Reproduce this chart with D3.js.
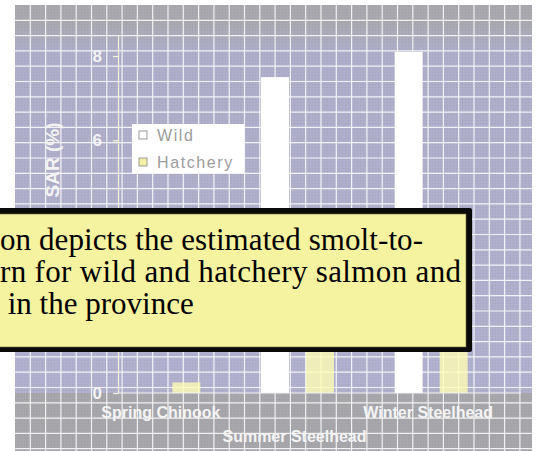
<!DOCTYPE html>
<html>
<head>
<meta charset="utf-8">
<script src="https://cdn.jsdelivr.net/npm/d3@7/dist/d3.min.js"></script>
<style>
  html, body { margin: 0; padding: 0; background: #ffffff; }
  svg { display: block; }
</style>
</head>
<body>
<svg id="chart" width="538" height="451"></svg>
<script>
// Smolt-to-adult return (SAR, %) by stock and origin
const categories = ["Spring Chinook", "Summer Steelhead", "Winter Steelhead"];
const series = ["Wild", "Hatchery"];
const wildSAR = [0, 7.5, 8.1];
const hatcherySAR = [0.25, 1.5, 1.3];
const yTicks = [0, 2, 4, 6, 8];
const calloutLines = [
  "on depicts the estimated smolt-to-",
  "rn for wild and hatchery salmon and",
  " in the province"
];

const svg = d3.select("#chart");
const defs = svg.append("defs");

// Panel backdrop: grey frame band, lavender chart field, fine grid
const panel = { x: 15, y: 5, w: 517, h: 446 };
const plot = { left: 118, right: 521, top: 35, bottom: 393 };
const note = { x: -10, y: 208, w: 482, h: 144, border: 6 };

const grad = defs.append("linearGradient")
  .attr("id", "field")
  .attr("gradientUnits", "userSpaceOnUse")
  .attr("x1", 0).attr("y1", panel.y).attr("x2", 0).attr("y2", plot.bottom);
grad.append("stop").attr("offset", 0.04).attr("stop-color", "#a8a8ae");
grad.append("stop").attr("offset", 0.12).attr("stop-color", "#aeaeca");
grad.append("stop").attr("offset", 1).attr("stop-color", "#b1b1cf");

const dots = defs.append("pattern")
  .attr("id", "dots").attr("patternUnits", "userSpaceOnUse")
  .attr("width", 3).attr("height", 3);
dots.append("rect").attr("width", 1).attr("height", 1)
  .attr("fill", "#8c8c98").attr("opacity", 0.3);

svg.append("rect")
  .attr("x", panel.x).attr("y", panel.y).attr("width", panel.w).attr("height", panel.h)
  .attr("fill", "#a6a6ab");
svg.append("rect")
  .attr("x", panel.x).attr("y", panel.y).attr("width", panel.w)
  .attr("height", plot.bottom - panel.y)
  .attr("fill", "url(#field)");
svg.append("rect")
  .attr("x", panel.x).attr("y", panel.y).attr("width", panel.w).attr("height", panel.h)
  .attr("fill", "url(#dots)");

const cell = 15.3;
const grid = svg.append("g").attr("stroke", "#ffffff").attr("stroke-width", 1.2).attr("opacity", 0.85);
grid.selectAll("line.v")
  .data(d3.range(panel.x + cell, panel.x + panel.w, cell))
  .join("line").attr("class", "v")
  .attr("x1", d => d).attr("x2", d => d)
  .attr("y1", panel.y).attr("y2", panel.y + panel.h);
grid.selectAll("line.h")
  .data(d3.range(panel.y + cell, panel.y + panel.h, cell))
  .join("line").attr("class", "h")
  .attr("y1", d => d).attr("y2", d => d)
  .attr("x1", panel.x).attr("x2", panel.x + panel.w);

// Scales
const y = d3.scaleLinear().domain([0, 8.5]).range([plot.bottom, plot.top]);
const x0 = d3.scaleBand().domain(categories).range([97, 498]);
const x1 = d3.scaleBand().domain(series)
  .range([x0.bandwidth() / 2 - 45, x0.bandwidth() / 2 + 45])
  .paddingInner(0.378).paddingOuter(0.189);

const rows = categories.map((c, i) => ({
  category: c,
  values: [
    { key: "Wild", value: wildSAR[i] },
    { key: "Hatchery", value: hatcherySAR[i] }
  ]
}));
const fillFor = { Wild: "#ffffff", Hatchery: "#fffcb4" };
const opacityFor = { Wild: 1, Hatchery: 0.8 };

// Bars
svg.append("g").selectAll("g")
  .data(rows)
  .join("g")
  .attr("transform", d => `translate(${x0(d.category)},0)`)
  .selectAll("rect")
  .data(d => d.values)
  .join("rect")
  .attr("x", d => x1(d.key))
  .attr("width", x1.bandwidth())
  .attr("y", d => y(d.value))
  .attr("height", d => y(0) - y(d.value))
  .attr("fill", d => fillFor[d.key])
  .attr("fill-opacity", d => opacityFor[d.key]);

// Y axis
const yAxis = svg.append("g")
  .attr("transform", `translate(${plot.left},0)`)
  .call(d3.axisLeft(y).tickValues(yTicks).tickSize(5).tickSizeOuter(0).tickPadding(11));
yAxis.select(".domain").attr("stroke", "#f4f4de").attr("stroke-width", 1.2);
yAxis.selectAll(".tick line").attr("stroke", "#f4f4de").attr("stroke-width", 1.2);
yAxis.selectAll(".tick text")
  .attr("fill", "#f3f3f3")
  .attr("font-family", "'Liberation Sans', Arial, sans-serif")
  .attr("font-weight", "bold")
  .attr("font-size", 17);
// tick labels that sit under the note box are covered anyway
yAxis.selectAll(".tick")
  .filter(d => y(d) > note.y && y(d) < note.y + note.h)
  .select("text").remove();

// X axis baseline and staggered category labels
svg.append("line")
  .attr("x1", plot.left).attr("x2", plot.right)
  .attr("y1", y(0)).attr("y2", y(0))
  .attr("stroke", "#f4f4f4").attr("stroke-width", 1.2);
const xAxis = svg.append("g")
  .attr("transform", `translate(0,${y(0)})`)
  .call(d3.axisBottom(x0).tickSize(0).tickSizeOuter(0));
xAxis.select(".domain").remove();
xAxis.selectAll(".tick text")
  .attr("fill", "#f4f4f4")
  .attr("font-family", "'Liberation Sans', Arial, sans-serif")
  .attr("font-weight", "bold")
  .attr("font-size", 16)
  .attr("dy", null)
  .attr("x", -3)
  .attr("y", (d, i) => (i % 2 === 0 ? 25 : 49));

// Y axis title
svg.append("text")
  .attr("transform", "translate(59,160) rotate(-90)")
  .attr("text-anchor", "middle")
  .attr("fill", "#f3f3f3")
  .attr("font-family", "'Liberation Sans', Arial, sans-serif")
  .attr("font-weight", "bold")
  .attr("font-size", 19)
  .text("SAR (%)");

// Legend
const legend = svg.append("g");
legend.append("rect")
  .attr("x", 132).attr("y", 124).attr("width", 112).attr("height", 49)
  .attr("fill", "#ffffff");
const legendItems = legend.selectAll("g.item")
  .data(series)
  .join("g").attr("class", "item")
  .attr("transform", (d, i) => `translate(139,${131 + i * 27})`);
legendItems.append("rect")
  .attr("width", 8).attr("height", 8)
  .attr("fill", d => (d === "Wild" ? "#ffffff" : "#f4f0a6"))
  .attr("stroke", "#9a9a9a").attr("stroke-width", 1);
legendItems.append("text")
  .attr("x", 18).attr("y", 10)
  .attr("fill", "#9c9c9c")
  .attr("font-family", "'Liberation Sans', Arial, sans-serif")
  .attr("font-size", 16)
  .attr("letter-spacing", 1.6)
  .text(d => d);

// Note box
const callout = svg.append("g");
callout.append("rect")
  .attr("x", note.x).attr("y", note.y).attr("width", note.w).attr("height", note.h)
  .attr("rx", 2).attr("fill", "#0a0a0a");
callout.append("rect")
  .attr("x", note.x).attr("y", note.y + note.border)
  .attr("width", note.w - note.border).attr("height", note.h - note.border - 5)
  .attr("fill", "#f5f2a0").attr("stroke", "#6b6a40").attr("stroke-width", 0.6);
const lineSpan = [[0, 423], [0, 461], null];
callout.selectAll("text")
  .data(calloutLines)
  .join("text")
  .attr("x", (d, i) => (lineSpan[i] ? lineSpan[i][0] : 0))
  .attr("y", (d, i) => 250 + i * 32)
  .each(function (d, i) {
    if (lineSpan[i]) {
      d3.select(this)
        .attr("textLength", lineSpan[i][1] - lineSpan[i][0])
        .attr("lengthAdjust", "spacing");
    }
  })
  .attr("xml:space", "preserve")
  .style("white-space", "pre")
  .attr("fill", "#000000")
  .attr("font-family", "'Liberation Serif', 'Times New Roman', serif")
  .attr("font-size", 31)
  .text(d => d);
</script>
</body>
</html>
